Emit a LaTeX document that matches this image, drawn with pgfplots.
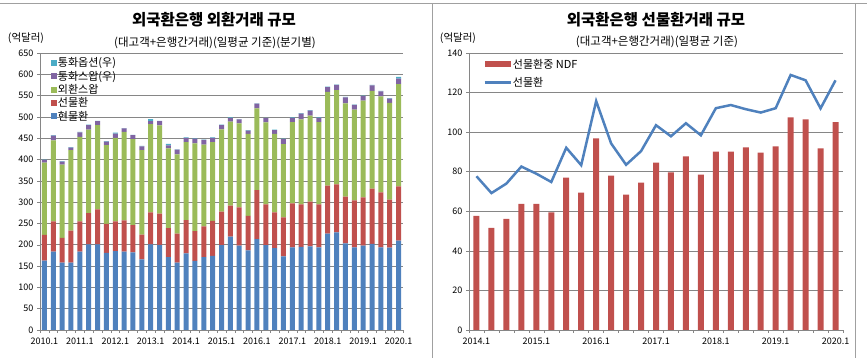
\documentclass[border=0pt]{standalone}
\usepackage{fontspec}
\setmainfont{Noto Sans CJK KR}
\usepackage{pgfplots}
\usepackage{pgfplotstable}
\pgfplotsset{compat=1.18}
\definecolor{cBlue}{HTML}{4F81BD}
\definecolor{cRed}{HTML}{C0504D}
\definecolor{cGreen}{HTML}{9BBB59}
\definecolor{cPurple}{HTML}{8064A2}
\definecolor{cCyan}{HTML}{4BACC6}
\definecolor{gridc}{HTML}{868686}
\definecolor{framec}{HTML}{A0A0A0}

\pgfplotstableread{
x spot fwd swap cswap opt
0 163 60 170 6 1
1 184 71 190 11 1
2 158 58 172 7 1
3 158 75 189 6 1
4 184 71 198 11 1
5 201 73 196 11 1
6 201 82 198 9 1
7 181 68 185 8 1
8 185 70 196 10 2
9 184 73 208 8 1
10 182 64 202 9 1
11 166 58 198 9 1
12 201 75 207 7 5
13 200 73 207 10 1
14 171 68 187 7 4
15 158 68 186 11 1
16 180 78 183 10 1
17 162 70 206 11 1
18 171 72 192 11 1
19 174 82 185 10 1
20 199 79 193 10 1
21 219 73 197 8 2
22 198 90 197 9 1
23 187 81 192 8 1
24 213 115 192 11 1
25 199 96 192 10 1
26 192 84 184 9 1
27 173 91 172 12 1
28 194 103 191 10 1
29 195 100 199 14 1
30 196 105 202 12 1
31 194 101 193 10 1
32 226 113 220 11 1
33 229 113 221 12 1
34 203 110 219 14 1
35 194 110 213 11 1
36 198 113 227 11 1
37 202 130 229 13 1
38 194 129 225 12 1
39 193 113 227 10 1
40 210 127 240 13 4
}\fxdata

\pgfplotstableread{
x ndf fwd
0 57.7 77.7
1 51.6 69.2
2 56.1 74.0
3 63.8 82.6
4 63.8 79.0
5 59.5 74.8
6 77.0 92.1
7 69.4 83.3
8 96.9 115.7
9 78.0 94.3
10 68.4 83.5
11 74.5 90.4
12 84.6 103.5
13 79.7 97.9
14 87.7 104.5
15 78.5 98.4
16 90.2 112.1
17 90.2 113.7
18 92.3 111.6
19 89.7 109.9
20 92.8 112.1
21 107.5 128.9
22 106.5 126.2
23 91.8 112.0
24 105.0 126.2
}\fwdata

\pgfplotsset{
  common/.style={
    scale only axis,
    axis x line=bottom, axis y line=left,
    axis line style={-, gridc},
    ymajorgrids, grid style={gridc, line width=0.6pt},
    tick align=outside,
    major tick length=3pt,
    minor tick length=3pt,
    xtick style={draw=none},
    minor x tick style={draw=gridc, line width=0.5pt},
    ytick style={draw=gridc, line width=0.5pt},
    ticklabel style={font=\fontsize{9}{9}\selectfont, text=black},
    /pgf/number format/assume math mode=true,
    xticklabel style={yshift=-1pt},
    legend cell align=left,
  }
}

\begin{document}
\begin{tikzpicture}[x=1pt,y=1pt]
\path[use as bounding box] (0,0) rectangle (867,358);
\draw[framec, line width=0.8pt] (0,355) -- (867,355);
\draw[framec, line width=0.8pt] (432.5,0) -- (432.5,355);
\draw[framec, line width=0.8pt] (855.5,0) -- (855.5,355);

% Left titles
\node[font=\bfseries\fontsize{15.5}{16}\selectfont] at (214,338) {외국환은행 외환거래 규모};
\node[font=\fontsize{11.5}{12}\selectfont] at (215,315.5) {(대고객+은행간거래)(일평균 기준)(분기별)};
\node[font=\fontsize{10.5}{11}\selectfont] at (26,320) {(억달러)};

\begin{axis}[common,
  at={(40pt,28pt)}, anchor=south west,
  width=363pt, height=277pt,
  ybar stacked, bar width=5pt,
  xmin=-0.5, xmax=40.5, ymin=0, ymax=650,
  ytick={0,50,...,650},
  xtick={0,4,...,40},
  xticklabels={2010.1,2011.1,2012.1,2013.1,2014.1,2015.1,2016.1,2017.1,2018.1,2019.1,2020.1},
  minor xtick={-0.5,0.5,...,40.5},
  legend style={at={(0.022,0.99)}, anchor=north west, draw=none, fill=none,
    font=\fontsize{11}{11}\selectfont, row sep=1.8pt,
    nodes={inner sep=0.8pt, text height=8pt, text depth=2pt}},
  legend image code/.code={\fill[#1] (0pt,-2pt) rectangle (6pt,4pt);},
  reverse legend,
]
\addplot[fill=cBlue, draw=none] table[x=x,y=spot]{\fxdata};
\addlegendentry{현물환}
\addplot[fill=cRed, draw=none] table[x=x,y=fwd]{\fxdata};
\addlegendentry{선물환}
\addplot[fill=cGreen, draw=none] table[x=x,y=swap]{\fxdata};
\addlegendentry{외환스왑}
\addplot[fill=cPurple, draw=none] table[x=x,y=cswap]{\fxdata};
\addlegendentry{통화스왑(우)}
\addplot[fill=cCyan, draw=none] table[x=x,y=opt]{\fxdata};
\addlegendentry{통화옵션(우)}
\end{axis}

% Right titles
\node[font=\bfseries\fontsize{15.5}{16}\selectfont] at (656,338) {외국환은행 선물환거래 규모};
\node[font=\fontsize{11.5}{12}\selectfont] at (657,316) {(대고객+은행간거래)(일평균 기준)};
\node[font=\fontsize{10.5}{11}\selectfont] at (458,319.5) {(억달러)};

\begin{axis}[common,
  at={(469pt,28pt)}, anchor=south west,
  width=374pt, height=277pt,
  xmin=-0.5, xmax=24.5, ymin=0, ymax=140,
  ytick={0,20,...,140},
  xtick={0,4,...,24},
  xticklabels={2014.1,2015.1,2016.1,2017.1,2018.1,2019.1,2020.1},
  minor xtick={-0.5,0.5,...,24.5},
  legend style={at={(0.03,0.985)}, anchor=north west, draw=none, fill=none,
    font=\fontsize{11}{11}\selectfont, row sep=6pt,
    nodes={inner sep=1pt, text height=8pt, text depth=2pt}},
]
\addplot[ybar, bar width=6pt, fill=cRed, draw=none,
  legend image code/.code={\fill[cRed] (0pt,-2pt) rectangle (26pt,4pt);}]
  table[x=x,y=ndf]{\fwdata};
\addlegendentry{선물환중 NDF}
\addplot[cBlue, line width=2.5pt, mark=none,
  legend image code/.code={\draw[cBlue, line width=2.5pt] (0pt,1pt) -- (26pt,1pt);}]
  table[x=x,y=fwd]{\fwdata};
\addlegendentry{선물환}
\end{axis}
\end{tikzpicture}
\end{document}
